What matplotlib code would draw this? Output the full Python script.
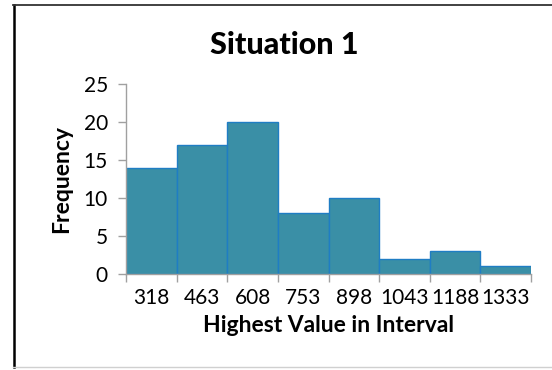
import matplotlib.pyplot as plt
from matplotlib.lines import Line2D
import numpy as np

# Histogram data: upper bound of each interval and its count
bin_labels = ['318', '463', '608', '753', '898', '1043', '1188', '1333']
frequency = [14, 17, 20, 8, 10, 2, 3, 1]

plt.rcParams['font.family'] = ['Lato', 'DejaVu Sans']

fig = plt.figure(figsize=(5.52, 3.70), dpi=100)
ax = fig.add_axes([0.2283, 0.2595, 0.7337, 0.5135])

x = np.arange(len(frequency))
ax.bar(x + 0.5, frequency, width=1.0, color='#3a8fa6', edgecolor='#1f7dc4', linewidth=1.0)

ax.set_xlim(0, len(frequency))
ax.set_ylim(0, 25)
ax.set_yticks([0, 5, 10, 15, 20, 25])

# tick marks at bin edges, labels in the middle of each bin
ax.set_xticks(np.arange(len(frequency) + 1))
ax.set_xticklabels([])
ax.set_xticks(x + 0.5, minor=True)
ax.set_xticklabels(bin_labels, minor=True)
ax.tick_params(axis='x', which='major', length=6, color='#a0a0a0', width=1)
ax.tick_params(axis='x', which='minor', length=0, pad=10, labelsize=15)
ax.tick_params(axis='y', length=6, color='#a0a0a0', width=1, labelsize=15, pad=7)

for side in ['top', 'right']:
    ax.spines[side].set_visible(False)
for side in ['left', 'bottom']:
    ax.spines[side].set_color('#a0a0a0')
    ax.spines[side].set_linewidth(1)

ax.set_xlabel('Highest Value in Interval', fontsize=16.5, fontweight='bold', labelpad=5)
ax.set_ylabel('Frequency', fontsize=16.5, fontweight='bold', labelpad=8)
fig.text(0.515, 0.878, 'Situation 1', ha='center', va='center', fontsize=22, fontweight='black')

# frame around the chart area
W, H = 552, 370
fig.add_artist(Line2D([13.5 / W, 13.5 / W], [1 - 5 / H, 1 - 367 / H], color='black', lw=1.8, transform=fig.transFigure))
fig.add_artist(Line2D([13 / W, 1], [1 - 5 / H, 1 - 5 / H], color='#333333', lw=1.3, transform=fig.transFigure))
fig.add_artist(Line2D([13 / W, 1], [1 - 367 / H, 1 - 367 / H], color='#d0d0d0', lw=1.0, transform=fig.transFigure))

fig.savefig('out.png', dpi=100)
